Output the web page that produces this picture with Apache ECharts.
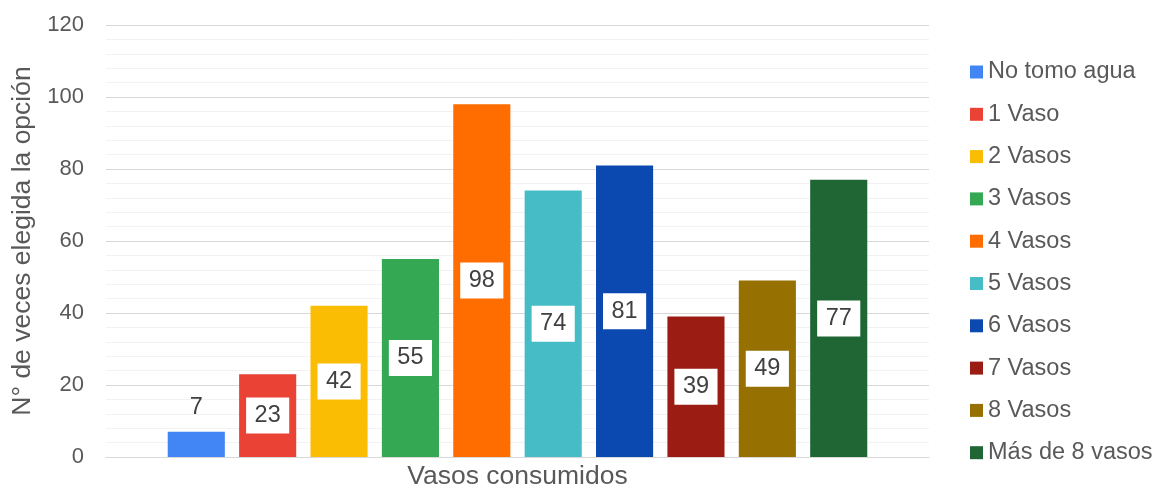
<!DOCTYPE html>
<html>
<head>
<meta charset="utf-8">
<script src="https://cdn.jsdelivr.net/npm/echarts@6/dist/echarts.min.js"></script>
<style>
  html, body { margin: 0; padding: 0; background: #fff; }
  #chart { width: 1158px; height: 488px; }
</style>
</head>
<body>
<div id="chart"></div>
<script>
// Daily water glasses survey: one category, one series per answer
const category = ['Vasos consumidos'];
const seriesNames = ['No tomo agua', '1 Vaso', '2 Vasos', '3 Vasos', '4 Vasos',
                     '5 Vasos', '6 Vasos', '7 Vasos', '8 Vasos', 'Más de 8 vasos'];
const seriesValues = [7, 23, 42, 55, 98, 74, 81, 39, 49, 77];
const seriesColors = ['#4285F4', '#EA4335', '#FBBC04', '#34A853', '#FF6D01',
                      '#46BDC6', '#0B48B0', '#9A1C12', '#967000', '#1F6634'];
const yTicks = [0, 20, 40, 60, 80, 100, 120];

const font = 'Liberation Sans, Arial, sans-serif';
const chart = echarts.init(document.getElementById('chart'), null, { renderer: 'canvas' });

const series = seriesNames.map((name, i) => {
  const small = seriesValues[i] < 15;
  return {
    name: name,
    type: 'bar',
    data: [seriesValues[i]],
    itemStyle: { color: seriesColors[i] },
    barGap: '25%',
    barCategoryGap: '15%',
    label: small ? {
      show: true,
      position: 'top',
      distance: 12,
      fontFamily: font,
      fontSize: 23.5,
      color: '#404040'
    } : {
      show: true,
      position: 'inside',
      backgroundColor: '#ffffff',
      padding: [6, 8.5, 6, 8.5],
      fontFamily: font,
      fontSize: 23.5,
      color: '#404040'
    }
  };
});

chart.setOption({
  animation: false,
  backgroundColor: '#ffffff',
  grid: { left: 106, right: 229, top: 25, bottom: 31, containLabel: false, outerBoundsMode: 'none' },
  legend: {
    orient: 'vertical',
    left: 970,
    top: 59,
    padding: 0,
    icon: 'rect',
    itemWidth: 13,
    itemHeight: 13,
    itemGap: 16.3,
    textStyle: { fontFamily: font, fontSize: 23.5, color: '#595959', lineHeight: 26 },
    data: seriesNames
  },
  xAxis: {
    type: 'category',
    data: category,
    axisLine: { show: true, lineStyle: { color: '#D9D9D9', width: 1 } },
    axisTick: { show: false },
    axisLabel: { fontFamily: font, fontSize: 26.5, color: '#595959', margin: 6 }
  },
  yAxis: {
    type: 'value',
    min: yTicks[0],
    max: yTicks[yTicks.length - 1],
    interval: 20,
    name: 'N° de veces elegida la opción',
    nameLocation: 'middle',
    nameGap: 70,
    nameTextStyle: { fontFamily: font, fontSize: 26.5, color: '#595959' },
    axisLine: { show: false },
    axisTick: { show: false },
    axisLabel: { fontFamily: font, fontSize: 22, color: '#595959', margin: 22 },
    splitLine: { show: true, lineStyle: { color: '#D9D9D9', width: 1 } },
    minorTick: { show: false, splitNumber: 5 },
    minorSplitLine: { show: true, lineStyle: { color: '#F2F2F2', width: 1 } }
  },
  series: series
});
</script>
</body>
</html>
